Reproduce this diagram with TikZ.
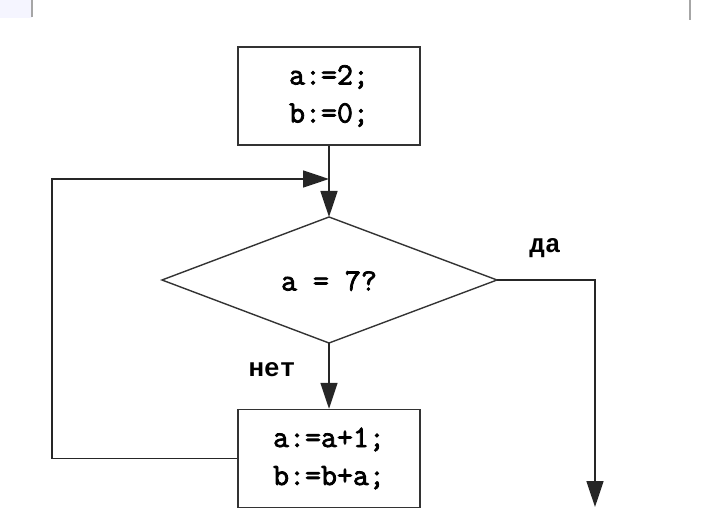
\documentclass[tikz,border=0pt]{standalone}
\usepackage{fontspec}
\setmonofont{Liberation Mono}
\newfontfamily\codefont{Latin Modern Mono}[UprightFeatures={FakeBold=2.5}]
\usetikzlibrary{arrows.meta,shapes.geometric}
\begin{document}
\begin{tikzpicture}[x=1pt,y=-1pt,
  line/.style={draw=black!85, line width=1.6pt},
  arr/.style={line, -{Triangle[length=26pt,width=17pt]}},
  proc/.style={draw=black!80, line width=1.4pt, minimum width=182pt, minimum height=98pt, inner sep=0pt, align=center, font=\codefont\fontsize{31}{38}\selectfont},
  lbl/.style={font=\codefont\fontsize{31}{30}\selectfont, inner sep=0pt},
  cyr/.style={font=\ttfamily\bfseries\fontsize{26}{30}\selectfont, inner sep=0pt}]
\useasboundingbox (0,0) rectangle (720,526);
\fill[blue!4] (0,0) rectangle (32,18);
\draw[black!35, line width=1.5pt] (32,0) -- (32,17);
\draw[black!35, line width=1.5pt] (690,0) -- (690,20);
\node[proc] (init) at (329,96) {a:=2;\\b:=0;};
\node[proc] (body) at (329,458.5) {a:=a+1;\\b:=b+a;};
\coordinate (dt) at (329,217);
\coordinate (db) at (329,343);
\coordinate (dl) at (162,280);
\coordinate (dr) at (497,280);
\draw[draw=black!80, line width=1.4pt] (dt) -- (dr) -- (db) -- (dl) -- cycle;
\node[lbl] (cond) at (329,281) {a = 7?};
\node[cyr] (yes) at (545,248) {да};
\node[cyr] (no) at (272,370) {нет};
\coordinate (loopA) at (52,458.5);
\coordinate (loopB) at (52,179);
\coordinate (join) at (329,179);
\coordinate (exitA) at (595,280);
\coordinate (exitB) at (595,507);
\draw[arr] (init.south) -- (dt);
\draw[arr] (db) -- (body.north);
\draw[arr] (body.west) -- (loopA) -- (loopB) -- (join);
\draw[arr] (dr) -- (exitA) -- (exitB);
\end{tikzpicture}
\end{document}
